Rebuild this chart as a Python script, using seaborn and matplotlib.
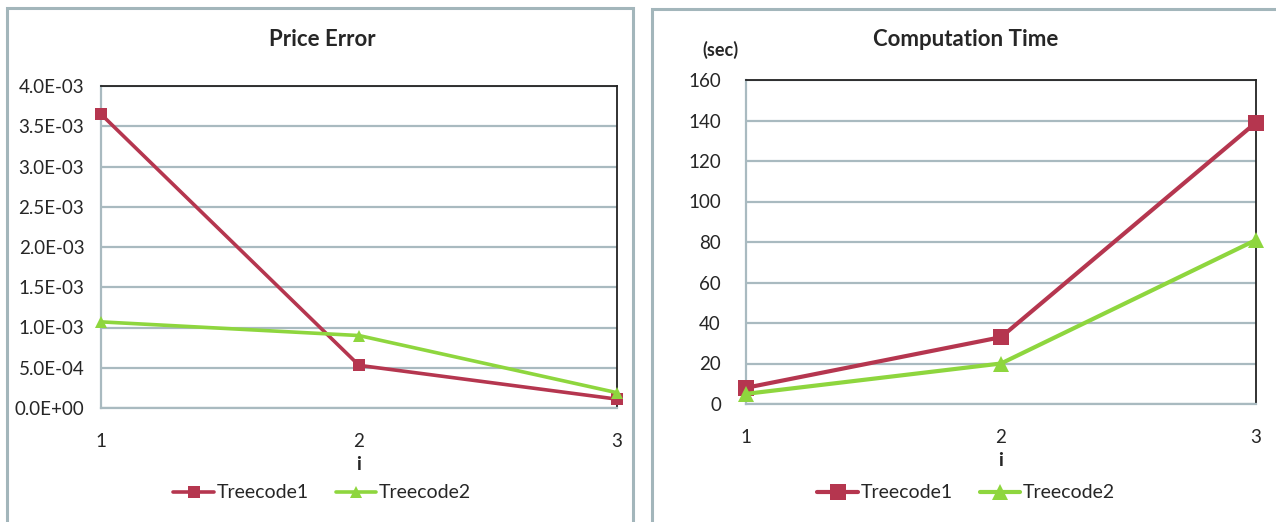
import matplotlib

matplotlib.use("Agg")

import matplotlib.pyplot as plt
import pandas as pd
import seaborn as sns
from matplotlib.patches import Rectangle

ITERATIONS = [1, 2, 3]
SERIES = ["Treecode1", "Treecode2"]
PRICE_ERROR_T1 = [3.65e-3, 5.3e-4, 1.1e-4]
PRICE_ERROR_T2 = [1.07e-3, 9.0e-4, 1.9e-4]
COMP_TIME_T1 = [8, 33, 139]
COMP_TIME_T2 = [5, 20, 81]
PRICE_TICKS = [0, 5e-4, 1e-3, 1.5e-3, 2e-3, 2.5e-3, 3e-3, 3.5e-3, 4e-3]
PRICE_LABELS = ["0.0E+00", "5.0E-04", "1.0E-03", "1.5E-03", "2.0E-03",
                "2.5E-03", "3.0E-03", "3.5E-03", "4.0E-03"]
TIME_TICKS = [0, 20, 40, 60, 80, 100, 120, 140, 160]

RED = "#B5364F"
GREEN = "#8ED63E"
GRID = "#A9BAC0"
FRAME = "#A3B6BB"
FONT = ["Lato", "DejaVu Sans"]


def long_frame(t1, t2):
    return pd.DataFrame(
        {
            "i": ITERATIONS * 2,
            "value": list(t1) + list(t2),
            "series": [SERIES[0]] * 3 + [SERIES[1]] * 3,
        }
    )


def style_axes(ax, ticks, ticklabels, ypad):
    ax.set_xlim(1, 3)
    ax.set_ylim(ticks[0], ticks[-1])
    ax.set_yticks(ticks)
    ax.set_yticklabels(ticklabels, fontsize=13.5)
    ax.set_xticks(ITERATIONS)
    ax.set_xticklabels([str(v) for v in ITERATIONS], fontsize=13.5)
    ax.tick_params(axis="both", length=0)
    ax.tick_params(axis="y", pad=ypad)
    ax.tick_params(axis="x", pad=18)
    ax.grid(axis="y", color=GRID, linewidth=1.6)
    ax.grid(axis="x", visible=False)
    ax.set_axisbelow(True)
    for side in ("left", "bottom"):
        ax.spines[side].set_color(GRID)
        ax.spines[side].set_linewidth(1.6)
    for side in ("top", "right"):
        ax.spines[side].set_color("#222222")
        ax.spines[side].set_linewidth(1.3)
    for line in ax.lines:
        line.set_clip_on(False)
        line.set_zorder(5)
    ax.set_xlabel("i", fontsize=14, fontweight="bold", labelpad=4)
    ax.set_ylabel("")


def draw_panel(fig, ax, data, ticks, ticklabels, title, center_x, marker_size, lw, ypad):
    sns.lineplot(
        data=data,
        x="i",
        y="value",
        hue="series",
        style="series",
        markers={"Treecode1": "s", "Treecode2": "^"},
        dashes=False,
        palette={"Treecode1": RED, "Treecode2": GREEN},
        linewidth=lw,
        markersize=marker_size,
        markeredgewidth=0,
        ax=ax,
    )
    style_axes(ax, ticks, ticklabels, ypad)
    fig.text(center_x / 1276, 1 - 40 / 522, title, ha="center", va="center",
             fontsize=16, fontweight="bold")
    handles, labels = ax.get_legend_handles_labels()
    ax.get_legend().remove()
    fig.legend(
        handles,
        labels,
        loc="center",
        bbox_to_anchor=(center_x / 1276, 1 - 493 / 522),
        ncol=2,
        frameon=False,
        fontsize=14,
        handlelength=2.1,
        handletextpad=0.1,
        columnspacing=1.4,
    )


sns.set_theme(style="white")
plt.rcParams["font.family"] = FONT

fig = plt.figure(figsize=(12.76, 5.22), dpi=100)

# chart-area frames like the spreadsheet export
fig.patches.append(Rectangle((7 / 1276, -0.05), 626 / 1276, 1.05 - 8 / 522,
                             transform=fig.transFigure, fill=False,
                             edgecolor=FRAME, linewidth=2.2))
fig.patches.append(Rectangle((652 / 1276, -0.05), 630 / 1276, 1.05 - 9 / 522,
                             transform=fig.transFigure, fill=False,
                             edgecolor=FRAME, linewidth=2.2))

ax1 = fig.add_axes([101 / 1276, 114 / 522, 516 / 1276, 322 / 522])
ax2 = fig.add_axes([746 / 1276, 118 / 522, 510 / 1276, 324 / 522])

draw_panel(fig, ax1, long_frame(PRICE_ERROR_T1, PRICE_ERROR_T2), PRICE_TICKS,
           PRICE_LABELS, "Price Error", 322, 8, 2.6, 12)
draw_panel(fig, ax2, long_frame(COMP_TIME_T1, COMP_TIME_T2), TIME_TICKS,
           [str(v) for v in TIME_TICKS], "Computation Time", 966, 11, 3.0, 18)

ax2.text(-0.05, 1.065, "(sec)", transform=ax2.transAxes, ha="center",
         va="bottom", fontsize=13, fontweight="bold")

fig.savefig("out.png", dpi=100)
